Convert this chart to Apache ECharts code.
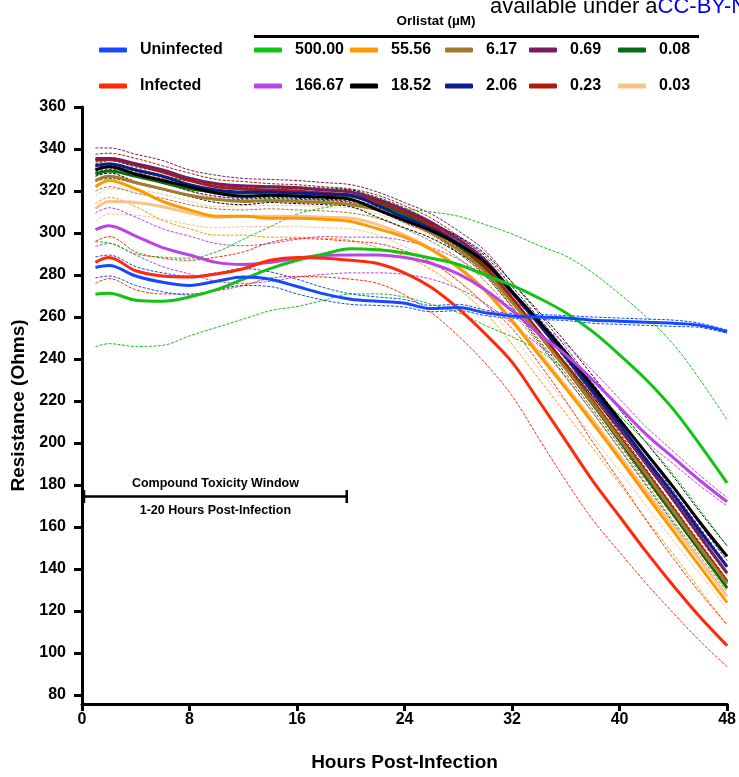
<!DOCTYPE html>
<html>
<head>
<meta charset="utf-8">
<script src="https://cdn.jsdelivr.net/npm/echarts@6/dist/echarts.min.js"></script>
<style>
  html, body { margin: 0; padding: 0; background: #fff; }
  #chart { width: 739px; height: 777px; }
</style>
</head>
<body>
<div id="chart"></div>
<script>
// Sampling times (hours post-infection)
const HOURS = [1, 2, 4, 6, 8, 10, 12, 14, 16, 18, 20, 22, 24, 26, 28, 30, 32, 34, 36, 38, 40, 42, 44, 46, 48];

// Mean resistance (Ohms) and standard deviation per condition
const MEAN_UNINFECTED = [283.6, 284.5, 279.5, 276.5, 275, 277, 279, 278, 274.5, 271, 268.5, 267.5, 266.5, 264, 264.5, 262, 260.5, 260, 259.5, 258.5, 258, 257.5, 257, 256, 253];
const SD_UNINFECTED   = [5, 5, 4.5, 4.5, 4.5, 4, 4, 3.5, 3.5, 3, 2.5, 2, 1.8, 1.5, 1.5, 1.3, 1.2, 1.2, 1.2, 1.5, 1.5, 1.5, 1.5, 1, 0.8];

const MEAN_INFECTED = [286, 288.3, 282, 279.5, 279, 280.5, 283, 287, 288.3, 288, 287, 285.5, 281, 274, 264, 252, 238.5, 220, 201, 182, 165, 148, 132, 117, 103.5];
const SD_INFECTED   = [10, 10, 9, 8.5, 8, 8, 8, 8.5, 9, 9, 9, 9.5, 10.5, 12, 13, 14, 16, 18, 19, 18.5, 17, 15, 13, 11.5, 10];

const MEAN_500 = [270.8, 271.3, 268, 267.5, 269.5, 273, 278, 283, 287, 290, 292.5, 292, 290.5, 288, 285, 280, 275, 269, 262, 253, 242, 230, 216, 199, 181];
const SD_500   = [25, 24, 22, 21, 18.5, 18, 19, 20, 22, 22, 21.5, 21, 21, 22, 23, 24, 24.5, 25, 27, 28, 29, 30, 31, 31, 30];

const MEAN_166 = [301.6, 303.5, 298.5, 293, 289.5, 286, 285, 286, 288, 289.3, 289.5, 289.5, 288.3, 285.5, 280.5, 273, 263, 252, 242, 230, 217, 204, 193, 182, 172];
const SD_166   = [8, 8.5, 9, 9, 9, 9, 9, 9, 9, 9, 8.5, 8.5, 8, 7.5, 7, 6.5, 6, 5.5, 5, 4.5, 4, 3.5, 3, 2.5, 2];

const MEAN_55 = [322, 325, 321, 315, 311, 308, 308, 307, 307, 306.5, 305.5, 302, 298, 292, 283.5, 272.5, 258, 242, 226, 209.5, 192.5, 175, 158, 141, 124];
const SD_55   = [8, 8, 8.5, 9, 9, 9, 9, 9, 9, 9, 9, 9, 9, 9.5, 10, 10.5, 11, 11.5, 12, 12, 12, 11.5, 11, 11, 11];

const MEAN_18 = [330, 331.5, 328, 325, 322, 319, 317.5, 318, 317.5, 317, 316, 311, 306, 301, 294.5, 286, 272, 258, 243, 227, 211, 195, 179, 162, 146];
const SD_18   = [3, 3, 3.5, 4, 4.5, 4.5, 4, 3.5, 3.5, 3.5, 3.5, 3.5, 3.5, 3.5, 4, 4, 4.5, 4.5, 5, 5, 5, 5, 5, 5, 5];

const MEAN_6 = [325, 327, 324, 321, 318, 316, 315, 315.5, 315, 314.5, 313.5, 311, 306, 300, 292, 281.5, 267, 251.5, 235.5, 219, 202, 185, 167.5, 150, 133];
const SD_6   = [5, 5, 5, 4.5, 4.5, 4.5, 4, 4, 4, 4, 4, 4, 4, 4, 4, 4.5, 4.5, 4.5, 4.5, 4.5, 4.5, 4.5, 4.5, 4, 4];

const MEAN_2 = [332, 333, 330, 327, 323, 320.5, 319.5, 319.5, 319, 318.5, 318, 313, 307.5, 302, 295, 286, 271.5, 256.5, 241, 225, 209, 192, 175.5, 158, 141];
const SD_2   = [3, 3, 3, 3, 3, 3, 3, 2.5, 2.5, 2.5, 2.5, 2.5, 2.5, 2.5, 3, 3, 3, 3, 3, 3, 3, 3, 3, 3, 3];

const MEAN_069 = [335.5, 335.5, 333, 330, 326, 323.5, 322.5, 322, 321.5, 320.5, 319.5, 316, 311, 305, 297, 287, 272, 257, 241, 224, 207, 190, 173, 155.5, 138];
const SD_069   = [5, 5, 4.5, 4.5, 4, 4, 3.5, 3.5, 3.5, 3.5, 3.5, 3.5, 3.5, 4, 4, 4.5, 4.5, 4.5, 4.5, 4.5, 4.5, 4.5, 4, 4, 4];

const MEAN_023 = [334.5, 335, 332.5, 329, 325, 322, 321, 320.5, 320, 319, 318, 315, 310, 303.5, 295, 284, 269, 253, 237, 220, 203, 186, 168.5, 151, 134];
const SD_023   = [3, 3, 3, 3, 3.5, 3.5, 3.5, 3, 3, 3, 3, 3, 3, 3.5, 3.5, 4, 4, 4, 4, 4, 4, 4, 3.5, 3.5, 3.5];

const MEAN_008 = [328, 329.5, 327, 324, 321, 319.5, 319, 319.5, 319, 318.5, 317.5, 314, 309, 302.5, 294, 283, 268, 252, 235.5, 218.5, 201, 183.5, 166, 148.5, 131];
const SD_008   = [3.5, 3.5, 3.5, 3.5, 3.5, 3.5, 3, 3, 3, 3, 3, 3, 3, 3, 3.5, 3.5, 3.5, 4, 4, 4, 4, 4, 4, 4, 4];

const MEAN_003 = [311.6, 315, 314.5, 312.5, 309.5, 307.5, 308, 308, 308, 307.5, 307, 304, 299, 292.5, 284, 273, 258.5, 243, 227, 211, 194, 177, 160.5, 144, 127];
const SD_003   = [6, 6, 6, 6, 5.5, 5, 5, 5, 5, 5, 5, 5, 5.5, 6, 6.5, 7, 7.5, 8, 8, 8, 7.5, 7, 7, 6.5, 6];

// Axis ticks
const X_TICKS = { min: 0, max: 48, step: 8 };
const Y_TICKS = [80, 100, 120, 140, 160, 180, 200, 220, 240, 260, 280, 300, 320, 340, 360];
const Y_AXIS_MIN = 75.7;

// Compound toxicity window bracket (hours) and the resistance level it sits at
const WINDOW_HOURS = [0.15, 19.7];
const WINDOW_LEVEL = 174.5;

// Legend columns (top row / bottom row)
const LEGEND_COLUMNS = [
  ['Uninfected', 'Infected'],
  ['500.00', '166.67'],
  ['55.56', '18.52'],
  ['6.17', '2.06'],
  ['0.69', '0.23'],
  ['0.08', '0.03']
];
const LEGEND_LEFT = [99, 254, 350, 445, 529, 618];

// Conditions, in drawing order (last drawn on top)
const GROUPS = [
  { name: '0.03',       color: '#f7c38d', mean: MEAN_003, sd: SD_003 },
  { name: '55.56',      color: '#ff9900', mean: MEAN_55,  sd: SD_55 },
  { name: '0.08',       color: '#0b6b12', mean: MEAN_008, sd: SD_008 },
  { name: '0.23',       color: '#b01c0a', mean: MEAN_023, sd: SD_023 },
  { name: '6.17',       color: '#a57a2c', mean: MEAN_6,   sd: SD_6 },
  { name: '0.69',       color: '#7b1c62', mean: MEAN_069, sd: SD_069 },
  { name: '2.06',       color: '#0b1e8c', mean: MEAN_2,   sd: SD_2 },
  { name: '18.52',      color: '#000000', mean: MEAN_18,  sd: SD_18 },
  { name: '166.67',     color: '#bb44e6', mean: MEAN_166, sd: SD_166 },
  { name: '500.00',     color: '#12c412', mean: MEAN_500, sd: SD_500 },
  { name: 'Infected',   color: '#ff2a0c', mean: MEAN_INFECTED,   sd: SD_INFECTED },
  { name: 'Uninfected', color: '#1449ff', mean: MEAN_UNINFECTED, sd: SD_UNINFECTED }
];

const FONT = '"Liberation Sans", Arial, Helvetica, sans-serif';
const SMOOTH = 0.35;

const pairs = vals => HOURS.map((h, i) => [h, vals[i]]);

const series = [];
// thin dotted +/- SD traces underneath
GROUPS.forEach(g => {
  [1, -1].forEach(sign => {
    series.push({
      type: 'line',
      name: g.name + (sign > 0 ? ' +SD' : ' -SD'),
      data: pairs(g.mean.map((m, i) => m + sign * g.sd[i])),
      symbol: 'none',
      smooth: SMOOTH,
      silent: true,
      z: 2,
      color: g.color,
      lineStyle: { color: g.color, width: 1, type: [3, 1.5] }
    });
  });
});
// thick mean traces
GROUPS.forEach(g => {
  series.push({
    type: 'line',
    name: g.name,
    data: pairs(g.mean),
    symbol: 'none',
    smooth: SMOOTH,
    silent: true,
    z: 3,
    color: g.color,
    itemStyle: { color: g.color },
    lineStyle: { color: g.color, width: 3 }
  });
});
// toxicity window bracket
series.push({
  type: 'line',
  name: 'Compound Toxicity Window',
  data: WINDOW_HOURS.map(h => [h, WINDOW_LEVEL]),
  symbol: 'rect',
  symbolSize: [2.5, 13],
  showSymbol: true,
  silent: true,
  z: 4,
  itemStyle: { color: '#000' },
  lineStyle: { color: '#000', width: 2.5 }
});

const legendText = {
  fontFamily: FONT, fontWeight: 'bold', fontSize: 16, color: '#000',
  lineHeight: 16, padding: [0, 0, 0, 8]
};

const option = {
  animation: false,
  backgroundColor: '#fff',
  grid: { left: 82, right: 11, top: 107, bottom: 71, containLabel: false },
  legend: LEGEND_COLUMNS.map((names, i) => ({
    data: names,
    orient: 'vertical',
    left: LEGEND_LEFT[i],
    top: 42,
    padding: 0,
    itemWidth: 28,
    itemHeight: 5,
    itemGap: 20,
    icon: 'roundRect',
    selectedMode: false,
    textStyle: legendText
  })),
  xAxis: {
    type: 'value',
    min: X_TICKS.min,
    max: X_TICKS.max,
    interval: X_TICKS.step,
    axisLine: { show: true, lineStyle: { color: '#000', width: 3 } },
    axisTick: { show: true, length: 7, lineStyle: { color: '#000', width: 3 } },
    axisLabel: { margin: 8, color: '#000', fontFamily: FONT, fontWeight: 'bold', fontSize: 16 },
    splitLine: { show: false },
    name: 'Hours Post-Infection',
    nameLocation: 'middle',
    nameGap: 49,
    nameTextStyle: { color: '#000', fontFamily: FONT, fontWeight: 'bold', fontSize: 19 }
  },
  yAxis: {
    type: 'value',
    min: Y_AXIS_MIN,
    max: 360,
    axisLine: { show: true, lineStyle: { color: '#000', width: 3 } },
    axisTick: { show: true, customValues: Y_TICKS, length: 8, lineStyle: { color: '#000', width: 3 } },
    axisLabel: { customValues: Y_TICKS, margin: 16, color: '#000', fontFamily: FONT, fontWeight: 'bold', fontSize: 16 },
    splitLine: { show: false },
    name: 'Resistance (Ohms)',
    nameLocation: 'middle',
    nameGap: 54,
    nameTextStyle: { color: '#000', fontFamily: FONT, fontWeight: 'bold', fontSize: 19 }
  },
  series: series
};

const chart = echarts.init(document.getElementById('chart'), null, { renderer: 'canvas' });
chart.setOption(option);

// header and annotation text
const mid = chart.convertToPixel({ gridIndex: 0 }, [(WINDOW_HOURS[0] + WINDOW_HOURS[1]) / 2, WINDOW_LEVEL]);
chart.setOption({
  graphic: [
    {
      type: 'text', z: 10,
      style: { x: 436, y: 21, text: 'Orlistat (µM)', align: 'center', verticalAlign: 'middle', fill: '#000', font: 'bold 13.5px ' + FONT }
    },
    {
      type: 'line', z: 10,
      shape: { x1: 254, y1: 36.5, x2: 699, y2: 36.5 },
      style: { stroke: '#000', lineWidth: 3 }
    },
    {
      type: 'text', z: 10,
      style: {
        x: 490, y: 19, verticalAlign: 'bottom',
        text: '{k|available under a}{b|CC-BY-NC-ND 4.0 International license}',
        rich: {
          k: { fill: '#000', fontFamily: FONT, fontSize: 22, lineHeight: 24 },
          b: { fill: '#0000ee', fontFamily: FONT, fontSize: 22, lineHeight: 24 }
        }
      }
    },
    {
      type: 'text', z: 10,
      style: { x: mid[0], y: mid[1] - 6, text: 'Compound Toxicity Window', align: 'center', verticalAlign: 'bottom', fill: '#000', font: 'bold 12.5px ' + FONT }
    },
    {
      type: 'text', z: 10,
      style: { x: mid[0], y: mid[1] + 8, text: '1-20 Hours Post-Infection', align: 'center', verticalAlign: 'top', fill: '#000', font: 'bold 12.5px ' + FONT }
    }
  ]
});
</script>
</body>
</html>
